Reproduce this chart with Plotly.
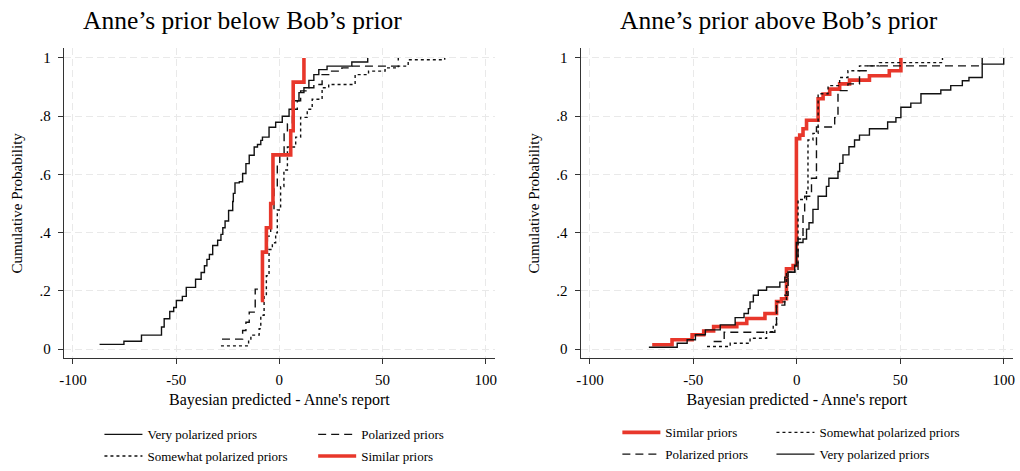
import plotly.graph_objects as go

# ---------------- data ----------------
# Left panel: Anne's prior below Bob's prior
L_very_x = [-87.1, -75.3, -66.8, -57.1, -55.8, -53.1, -51.2, -49.9, -47.0, -45.1, -40.6, -37.9,
            -36.3, -35.1, -33.9, -32.3, -29.9, -28.3, -27.4, -26.3, -24.6, -22.6, -22.3, -21.5,
            -19.4, -17.8, -16.2, -14.6, -12.2, -10.6, -9.0, -8.2, -5.0, -1.8, 1.4, 4.7, 6.3, 9.5,
            11.9, 14.3, 16.7, 19.1, 23.1, 35.1, 42.8]
L_very_y = [.016, .027, .048, .076, .104, .129, .143, .167, .181, .212, .240, .263,
            .286, .308, .325, .356, .374, .394, .417, .440, .476, .507, .535, .571,
            .575, .603, .637, .666, .694, .703, .717, .728, .762, .779, .800, .824, .853, .881,
            .898, .923, .943, .960, .972, .986, 1.0]

L_pol_x = [-27.8, -17.8, -16.2, -14.6, -11.7, -7.9, -5.8, -4.2, -2.6, -1.0, 0.2, 2.3, 3.9, 6.3,
           8.7, 10.3, 13.5, 16.7, 20.7, 24.7, 30.3, 35.1, 57.6]
L_pol_y = [.034, .064, .092, .127, .206, .331, .388, .478, .558, .637, .666, .739, .773, .824,
           .853, .887, .898, .909, .943, .955, .966, .972, 1.0]

L_some_x = [-28.3, -14.9, -13.8, -9.8, -9.0, -7.4, -6.3, -5.0, -3.4, -1.8, -1.0, 0.6, 2.2, 3.9,
            7.9, 10.3, 13.5, 15.9, 20.7, 23.9, 36.7, 43.2, 51.2, 57.6, 62.4, 80.1]
L_some_y = [.011, .030, .048, .070, .116, .184, .252, .342, .365, .399, .478, .558, .615, .694,
            .728, .796, .824, .858, .898, .909, .943, .955, .966, .972, .994, 1.0]

L_sim_x = [-9.0, -8.2, -6.3, -4.2, -3.1, 5.5, 6.7, 11.9]
L_sim_y = [.167, .333, .417, .500, .667, .750, .917, 1.0]

# Right panel: Anne's prior above Bob's prior
R_sim_x = [-69.9, -60.3, -50.6, -45.0, -40.2, -29.0, -24.2, -15.4, -9.8, -7.4, -5.0, -1.8,
           -0.2, 1.4, 3.0, 4.7, 10.3, 12.7, 15.9, 20.7, 25.5, 35.1, 44.7, 50.3]
R_sim_y = [.015, .032, .049, .062, .077, .088, .105, .122, .163, .173, .276, .287,
           .723, .735, .757, .786, .860, .876, .893, .911, .924, .939, .956, 1.0]

R_some_x = [-43.4, -32.2, -22.6, -14.6, -11.4, -9.8, -5.0, -1.0, 0.6, 4.7, 5.4, 7.8, 10.3,
            15.1, 20.7, 24.7, 30.3, 39.9, 70.4]
R_some_y = [.009, .020, .037, .060, .083, .162, .264, .287, .514, .548, .718, .741, .877,
            .905, .933, .956, .973, .984, 1.0]

R_pol_x = [-40.2, -35.1, -10.6, -9.8, -5.8, -4.2, 0.6, 3.0, 3.8, 7.1, 9.5, 18.3, 19.9, 24.7,
           30.3, 33.5, 89.6]
R_pol_y = [.026, .058, .083, .151, .185, .264, .378, .468, .525, .587, .763, .795, .888, .911,
           .956, .973, 1.0]

R_very_x = [-71.5, -57.8, -53.0, -49.0, -44.2, -37.0, -29.8, -25.5, -23.4, -22.6, -21.0, -18.6,
            -14.6, -8.2, -5.8, -4.2, -1.0, -0.2, 3.0, 4.7, 5.9, 7.8, 10.3, 14.3, 15.5, 19.9,
            20.7, 22.3, 25.2, 27.9, 30.3, 35.1, 43.9, 47.9, 50.3, 55.1, 60.0, 69.6, 74.4, 80.0,
            83.2, 89.6, 100.0]
R_very_y = [.006, .020, .032, .049, .066, .083, .108, .122, .139, .162, .185, .202,
            .213, .230, .247, .264, .287, .366, .378, .412, .434, .480, .525, .559, .587, .610,
            .638, .667, .695, .718, .735, .757, .780, .795, .831, .845, .877, .890, .905, .922,
            .933, .979, 1.0]

x_ticks = [-100, -50, 0, 50, 100]
x_tick_text = ["-100", "-50", "0", "50", "100"]
y_ticks = [0, .2, .4, .6, .8, 1]
y_tick_text = ["0", ".2", ".4", ".6", ".8", "1"]
titles = ["Anne\u2019s prior below Bob\u2019s prior", "Anne\u2019s prior above Bob\u2019s prior"]
x_title = "Bayesian predicted - Anne's report"
y_title = "Cumulative Probability"

# ---------------- styles ----------------
FONT = "Liberation Serif"
RED = "#e8372b"
BLACK = "#111111"
styles = {
    "Very polarized priors": dict(color=BLACK, width=1.4, dash="solid"),
    "Polarized priors": dict(color=BLACK, width=1.4, dash="8px,5px"),
    "Somewhat polarized priors": dict(color=BLACK, width=1.4, dash="3px,3px"),
    "Similar priors": dict(color=RED, width=3.6, dash="solid"),
}

W, H = 1020, 471

fig = go.Figure()

def add(name, xs, ys, xa, ya, legend):
    fig.add_trace(go.Scatter(
        x=xs, y=ys, mode="lines", line_shape="hv", name=name,
        line=styles[name], xaxis=xa, yaxis=ya, legend=legend, hoverinfo="skip"))

# left panel (draw order = legend order)
add("Very polarized priors", L_very_x, L_very_y, "x", "y", "legend")
add("Polarized priors", L_pol_x, L_pol_y, "x", "y", "legend2")
add("Somewhat polarized priors", L_some_x, L_some_y, "x", "y", "legend3")
add("Similar priors", L_sim_x, L_sim_y, "x", "y", "legend4")
# right panel
add("Similar priors", R_sim_x, R_sim_y, "x2", "y2", "legend5")
add("Somewhat polarized priors", R_some_x, R_some_y, "x2", "y2", "legend6")
add("Polarized priors", R_pol_x, R_pol_y, "x2", "y2", "legend7")
add("Very polarized priors", R_very_x, R_very_y, "x2", "y2", "legend8")

ydom = [(H - 363) / H, (H - 49) / H]

xaxis_common = dict(
    range=[-104.5, 104.5], tickvals=x_ticks, ticktext=x_tick_text, ticks="outside", ticklen=5,
    tickwidth=1, tickcolor="#333333", showline=True, linecolor="#333333", linewidth=1,
    showgrid=True, gridcolor="#e9e9e9", gridwidth=1, griddash="7px,4px", zeroline=False,
    tickfont=dict(family=FONT, size=15, color="black"), ticklabelstandoff=3,
    title=dict(text=x_title, font=dict(family=FONT, size=16, color="black"), standoff=6),
    fixedrange=True,
)
yaxis_common = dict(
    range=[-0.032, 1.033], tickvals=y_ticks, ticktext=y_tick_text, ticks="outside", ticklen=5,
    tickwidth=1, tickcolor="#333333", showline=True, linecolor="#333333", linewidth=1,
    showgrid=True, gridcolor="#e9e9e9", gridwidth=1, griddash="7px,4px", zeroline=False,
    tickfont=dict(family=FONT, size=15, color="black"), domain=ydom, ticklabelstandoff=4,
    title=dict(text=y_title, font=dict(family=FONT, size=15, color="black"), standoff=13),
    fixedrange=True,
)

leg_common = dict(orientation="h", xanchor="left", yanchor="middle", bgcolor="rgba(0,0,0,0)",
                  font=dict(family=FONT, size=13, color="black"), borderwidth=0, itemwidth=38,
                  itemclick=False, itemdoubleclick=False)

row1 = (H - 440) / H
row2 = (H - 462) / H
rrow1 = (H - 438) / H
rrow2 = (H - 460) / H

fig.update_layout(
    width=W, height=H,
    margin=dict(l=0, r=0, t=0, b=0),
    paper_bgcolor="white", plot_bgcolor="white",
    showlegend=True,
    xaxis=dict(xaxis_common, domain=[60 / W, 494 / W], anchor="y"),
    yaxis=dict(yaxis_common, anchor="x"),
    xaxis2=dict(xaxis_common, domain=[580 / W, 1015 / W], anchor="y2"),
    yaxis2=dict(yaxis_common, anchor="x2"),
    legend=dict(leg_common, x=96 / W, y=row1),
    legend2=dict(leg_common, x=311 / W, y=row1),
    legend3=dict(leg_common, x=96 / W, y=row2),
    legend4=dict(leg_common, x=311 / W, y=row2),
    legend5=dict(leg_common, x=617 / W, y=rrow1),
    legend6=dict(leg_common, x=772 / W, y=rrow1),
    legend7=dict(leg_common, x=617 / W, y=rrow2),
    legend8=dict(leg_common, x=772 / W, y=rrow2),
    annotations=[
        dict(text=titles[0], x=240 / W, y=(H - 21) / H, xref="paper", yref="paper",
             showarrow=False, xanchor="center", yanchor="middle",
             font=dict(family=FONT, size=25.5, color="black")),
        dict(text=titles[1], x=780 / W, y=(H - 21) / H, xref="paper", yref="paper",
             showarrow=False, xanchor="center", yanchor="middle",
             font=dict(family=FONT, size=25.5, color="black")),
    ],
)

fig.write_html("out.html")
